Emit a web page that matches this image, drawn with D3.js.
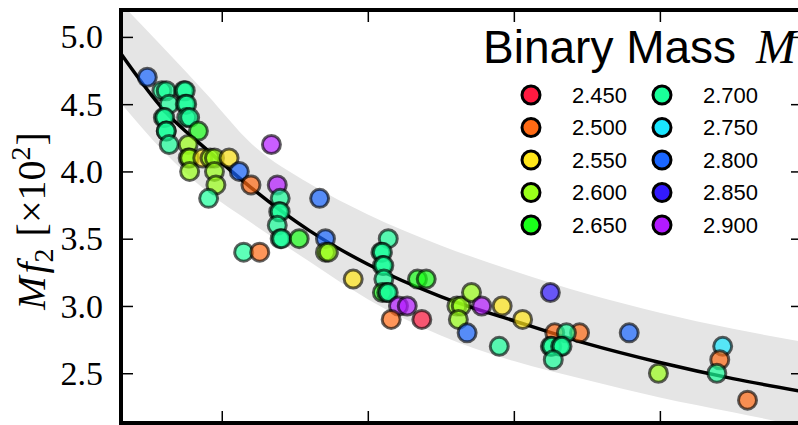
<!DOCTYPE html>
<html>
<head>
<meta charset="utf-8">
<script src="https://cdn.jsdelivr.net/npm/d3@7"></script>
<style>
  html, body { margin: 0; padding: 0; background: #fff; }
  svg { display: block; }
</style>
</head>
<body>
<div id="chart"></div>
<script>
const W = 798, H = 425;

// binary mass levels and their legend colours
const massLevels = [2.45, 2.50, 2.55, 2.60, 2.65, 2.70, 2.75, 2.80, 2.85, 2.90];
const massColors = ["#ff1a40", "#ff6a14", "#ffe61a", "#9aff1a", "#1aff1a",
                    "#1aff9a", "#1ae6ff", "#1a66ff", "#331aff", "#b31aff"];

// simulations: x position, M f2 [x10^2], binary mass
const pointX = [10.49, 10.59, 10.62, 10.74, 10.75, 10.64, 10.75, 10.76, 10.60, 10.61,
                10.76, 10.78, 10.84, 10.62, 10.62, 10.64, 10.77, 10.77, 10.78, 10.87,
                10.92, 10.95, 11.05, 11.12, 11.20, 10.78, 10.95, 10.96, 10.91, 11.34,
                11.38, 11.40, 11.39, 11.40, 11.38, 11.40, 11.41, 11.53, 11.67, 11.71,
                11.71, 11.73, 11.15, 11.26, 11.90, 12.14, 12.09, 12.10, 12.10, 12.11,
                12.11, 12.10, 12.13, 12.14, 12.21, 12.27, 12.16, 12.37, 12.34, 12.40,
                12.61, 12.64, 12.71, 12.62, 12.68, 12.78, 12.92, 13.06, 12.90, 13.25,
                13.28, 13.45, 13.36, 13.25, 13.26, 13.32, 13.33, 13.27, 13.79, 13.99,
                14.43, 14.41, 14.39, 14.60];
const pointMf2 = [4.7, 4.6, 4.6, 4.6, 4.6, 4.5, 4.5, 4.5, 4.4, 4.4,
                  4.4, 4.4, 4.3, 4.3, 4.3, 4.2, 4.2, 4.1, 4.1, 4.1,
                  4.1, 4.1, 4.1, 4.0, 3.9, 4.0, 4.0, 3.9, 3.8, 4.2,
                  3.9, 3.8, 3.7, 3.7, 3.6, 3.5, 3.5, 3.5, 3.8, 3.5,
                  3.4, 3.4, 3.4, 3.4, 3.2, 3.5, 3.4, 3.4, 3.3, 3.3,
                  3.2, 3.1, 3.1, 3.1, 3.0, 3.0, 2.9, 2.9, 3.2, 3.2,
                  3.0, 3.0, 3.1, 2.9, 2.8, 3.0, 3.0, 2.9, 2.7, 3.1,
                  2.8, 2.8, 2.8, 2.7, 2.7, 2.7, 2.7, 2.6, 2.8, 2.5,
                  2.7, 2.6, 2.5, 2.3];
const pointMass = [2.80, 2.70, 2.70, 2.70, 2.70, 2.70, 2.70, 2.70, 2.70, 2.70,
                   2.70, 2.70, 2.65, 2.70, 2.70, 2.70, 2.60, 2.60, 2.60, 2.55,
                   2.60, 2.60, 2.55, 2.80, 2.50, 2.60, 2.60, 2.60, 2.70, 2.90,
                   2.90, 2.70, 2.70, 2.70, 2.70, 2.70, 2.70, 2.65, 2.80, 2.80,
                   2.60, 2.60, 2.70, 2.50, 2.55, 2.70, 2.70, 2.70, 2.70, 2.70,
                   2.70, 2.65, 2.70, 2.70, 2.90, 2.90, 2.50, 2.45, 2.65, 2.65,
                   2.60, 2.60, 2.60, 2.60, 2.80, 2.90, 2.55, 2.55, 2.70, 2.85,
                   2.50, 2.50, 2.70, 2.70, 2.70, 2.70, 2.70, 2.70, 2.80, 2.60,
                   2.75, 2.50, 2.70, 2.50];

// fit curve and its band
const curveX   = [10.3, 10.6, 10.9, 11.2, 11.6, 12.0, 12.5, 13.0, 13.5, 14.0, 14.5, 15.0];
const curveMf2 = [4.89, 4.46, 4.16, 3.88, 3.56, 3.31, 3.07, 2.89, 2.72, 2.58, 2.46, 2.36];
const bandUpper = [5.26, 4.92, 4.57, 4.21, 3.91, 3.68, 3.45, 3.26, 3.09, 2.95, 2.83, 2.73];
const bandLower = [4.52, 4.15, 3.85, 3.62, 3.33, 3.05, 2.78, 2.59, 2.45, 2.32, 2.21, 2.10];

const xTicks = [11, 12, 13, 14];
const yTicks = [2.5, 3.0, 3.5, 4.0, 4.5, 5.0];

const svg = d3.select("#chart").append("svg")
    .attr("width", W).attr("height", H);

const plotL = 121, plotR = 803, plotT = 10, plotB = 423;

let x = d3.scaleLinear().domain([10.31, 14.98]).range([plotL, plotR]);
let y = d3.scaleLinear().domain([2.13, 5.2]).range([plotB, plotT]);

svg.append("clipPath").attr("id", "plot-clip")
    .append("rect")
    .attr("x", plotL).attr("y", plotT)
    .attr("width", plotR - plotL).attr("height", plotB - plotT);

let plot = svg.append("g").attr("clip-path", "url(#plot-clip)");

// grey band
let band = d3.area()
    .x((d, i) => x(curveX[i]))
    .y0((d, i) => y(bandLower[i]))
    .y1((d, i) => y(bandUpper[i]))
    .curve(d3.curveMonotoneX);
plot.append("path").datum(curveX)
    .attr("d", band)
    .attr("fill", "#e5e5e5");

// fit curve
let line = d3.line()
    .x((d, i) => x(curveX[i]))
    .y((d, i) => y(curveMf2[i]))
    .curve(d3.curveMonotoneX);
plot.append("path").datum(curveX)
    .attr("d", line)
    .attr("fill", "none")
    .attr("stroke", "#000")
    .attr("stroke-width", 3.5);

let color = d3.scaleOrdinal().domain(massLevels).range(massColors);

// the runs
let points = pointX.map((d, i) => ({x: d, v: pointMf2[i], m: pointMass[i]}));
plot.selectAll("circle.run").data(points).enter().append("circle")
    .attr("class", "run")
    .attr("cx", d => x(d.x))
    .attr("cy", d => y(d.v))
    .attr("r", 9)
    .attr("fill", d => color(d.m))
    .attr("fill-opacity", 0.7)
    .attr("stroke", "#000")
    .attr("stroke-opacity", 0.62)
    .attr("stroke-width", 3);

// axes: ticks point inward, labels only on the left
svg.append("g")
    .attr("transform", `translate(0,${plotB})`)
    .call(d3.axisTop(x).tickValues(xTicks).tickSize(12).tickFormat(""));
svg.append("g")
    .attr("transform", `translate(0,${plotT})`)
    .call(d3.axisBottom(x).tickValues(xTicks).tickSize(12).tickFormat(""));
svg.append("g")
    .attr("transform", `translate(${plotL},0)`)
    .call(d3.axisRight(y).tickValues(yTicks).tickSize(12).tickFormat(""));
svg.append("g")
    .attr("transform", `translate(${plotR},0)`)
    .call(d3.axisLeft(y).tickValues(yTicks).tickSize(12).tickFormat(""));
svg.selectAll(".domain").remove();
svg.selectAll(".tick line").attr("stroke", "#000").attr("stroke-width", 1.5);

svg.selectAll("text.ytick").data(yTicks).enter().append("text")
    .attr("class", "ytick")
    .attr("x", 103)
    .attr("y", d => y(d))
    .attr("dy", "0.34em")
    .attr("text-anchor", "end")
    .attr("font-family", "Liberation Serif")
    .attr("font-size", 34)
    .text(d => d.toFixed(1));

// frame
svg.append("rect")
    .attr("x", plotL).attr("y", plotT)
    .attr("width", plotR - plotL).attr("height", plotB - plotT)
    .attr("fill", "none")
    .attr("stroke", "#000")
    .attr("stroke-width", 4);

// y label
let ylab = svg.append("text")
    .attr("transform", "translate(45,221) rotate(-90)")
    .attr("text-anchor", "middle")
    .attr("font-family", "Liberation Serif")
    .attr("font-size", 40);
ylab.append("tspan").attr("font-style", "italic").text("M");
ylab.append("tspan").attr("font-style", "italic").attr("dx", 3).text("f");
ylab.append("tspan").attr("font-size", 28).attr("dy", 8).text("2");
ylab.append("tspan").attr("dy", -8).attr("dx", 12).text("[×10");
ylab.append("tspan").attr("font-size", 28).attr("dy", -15).text("2");
ylab.append("tspan").attr("dy", 15).attr("dx", 1).text("]");

// legend
let legend = svg.append("g");
let title = legend.append("text")
    .attr("x", 483).attr("y", 63)
    .attr("font-family", "Liberation Sans")
    .attr("font-size", 46);
title.append("tspan").text("Binary Mass");
title.append("tspan")
    .attr("dx", 20)
    .attr("font-family", "Liberation Serif")
    .attr("font-style", "italic")
    .attr("font-size", 48)
    .text("M");

let entries = legend.selectAll("g.entry").data(massLevels).enter().append("g")
    .attr("class", "entry")
    .attr("transform", (d, i) => `translate(${531 + Math.floor(i / 5) * 131},${95 + (i % 5) * 32.5})`);
entries.append("circle")
    .attr("r", 9)
    .attr("fill", d => color(d))
    .attr("stroke", "#000")
    .attr("stroke-width", 3);
entries.append("text")
    .attr("x", 41)
    .attr("dy", "0.36em")
    .attr("font-family", "Liberation Sans")
    .attr("font-size", 22)
    .text(d => d.toFixed(3));
</script>
</body>
</html>
